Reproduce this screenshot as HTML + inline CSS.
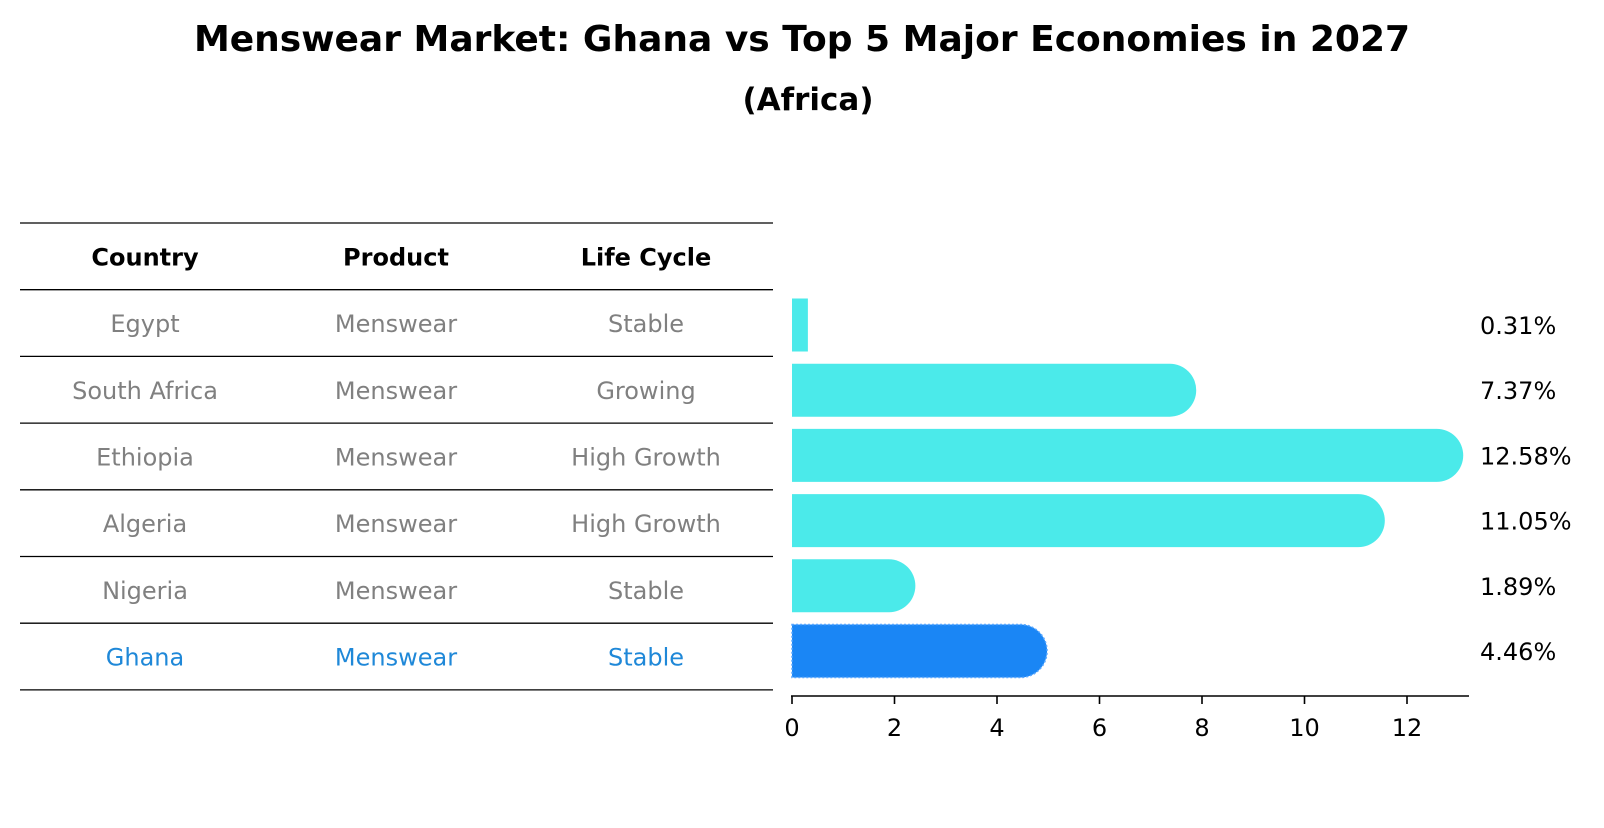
<!DOCTYPE html>
<html><head><meta charset="utf-8"><style>
body{margin:0;background:#fff}
svg text{font-family:"DejaVu Sans","Liberation Sans",sans-serif}
</style></head><body>
<svg id="chart" width="1604" height="823" viewBox="0 0 1604 823" xmlns="http://www.w3.org/2000/svg">
<text x="802" y="51" text-anchor="middle" font-size="36" font-weight="bold">Menswear Market: Ghana vs Top 5 Major Economies in 2027</text>
<text x="808" y="110" text-anchor="middle" font-size="31" font-weight="bold">(Africa)</text>
<g id="table"></g>
<g id="bars"></g>
</svg>
<script>
const countries = ["Egypt","South Africa","Ethiopia","Algeria","Nigeria","Ghana"];
const products = ["Menswear","Menswear","Menswear","Menswear","Menswear","Menswear"];
const lifeCycles = ["Stable","Growing","High Growth","High Growth","Stable","Stable"];
const values = [0.31,7.37,12.58,11.05,1.89,4.46];
const xTicks = [0,2,4,6,8,10,12];
const headers = ["Country","Product","Life Cycle"];

const NS="http://www.w3.org/2000/svg";
function mk(tag,attrs,parent){const e=document.createElementNS(NS,tag);for(const k in attrs)e.setAttribute(k,attrs[k]);parent.appendChild(e);return e;}
const tbl=document.getElementById('table');
const bars=document.getElementById('bars');
const colX=[145,396,646];
const rowTop=223, rowH=66.7;
const xs=v=>792+v*51.25;
const yc=i=>325+i*65.2;
const barH=53;

for(let i=0;i<=7;i++){
  const l=mk('line',{x1:20,x2:773,y1:rowTop+i*rowH,y2:rowTop+i*rowH,stroke:'#000','stroke-width':1.3},tbl);
  
  
}
headers.forEach((h,j)=>{
  const t=mk('text',{x:colX[j],y:rowTop+rowH/2+9,'text-anchor':'middle','font-size':24,'font-weight':'bold'},tbl);
  t.textContent=h;
  
  
});
countries.forEach((c,i)=>{
  const cells=[c,products[i],lifeCycles[i]];
  const col=i===countries.length-1?'#1f88d8':'#808080';
  cells.forEach((v,j)=>{
    const t=mk('text',{x:colX[j],y:rowTop+(i+1.5)*rowH+9,'text-anchor':'middle','font-size':24,fill:col},tbl);
    t.textContent=v;
    
    
  });
});

values.forEach((v,i)=>{
  const x0=xs(0), x1=xs(v), top=yc(i)-barH/2, r=barH/2;
  const ghana=i===values.length-1;
  let d;
  if(x1-x0>r){d=`M${x0},${top}H${x1}A${r},${r} 0 0 1 ${x1},${top+barH}H${x0}Z`;}
  else{d=`M${x0},${top}H${x1}V${top+barH}H${x0}Z`;}
  const p=mk('path',{d:d,fill:ghana?'#1a86f5':'#4beaea'},bars);
  if(ghana){p.setAttribute('stroke','#5aa8ff');p.setAttribute('stroke-width','1.5');p.setAttribute('stroke-dasharray','2,2');}
  
  
  const t=mk('text',{x:1480,y:yc(i)+9,'font-size':24},bars);
  t.textContent=v.toFixed(2)+'%';
  
  
});
const ax=mk('line',{x1:xs(0)-1,x2:1469,y1:696,y2:696,stroke:'#000','stroke-width':1.6},bars);


xTicks.forEach(v=>{
  const tk=mk('line',{x1:xs(v),x2:xs(v),y1:696,y2:704,stroke:'#000','stroke-width':1.6},bars);
  
  
  const t=mk('text',{x:xs(v),y:736,'text-anchor':'middle','font-size':24},bars);
  t.textContent=v;
  
  
});
</script>
</body></html>
